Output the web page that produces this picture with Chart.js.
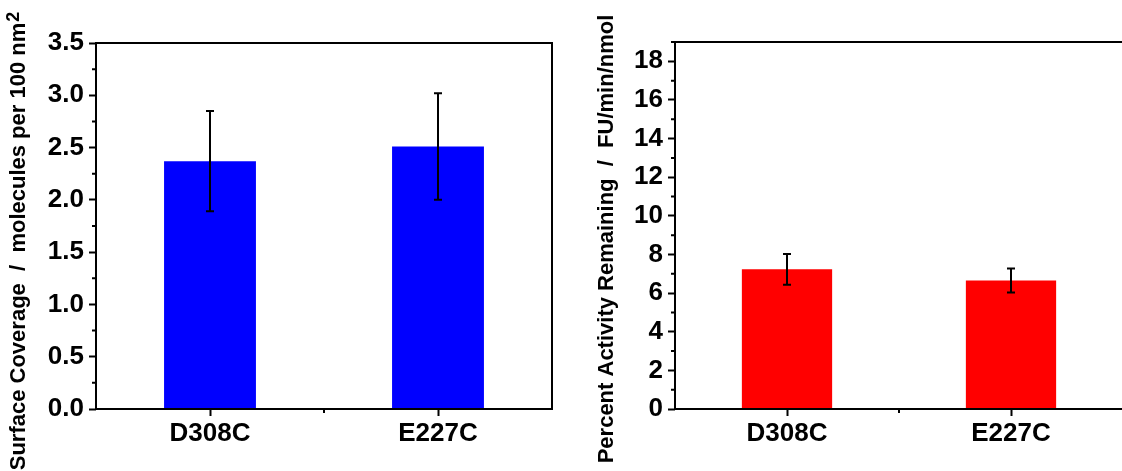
<!DOCTYPE html>
<html>
<head>
<meta charset="utf-8">
<script src="https://cdn.jsdelivr.net/npm/chart.js@4.4.1/dist/chart.umd.min.js"></script>
<style>
html, body { margin: 0; padding: 0; background: #fff; overflow: hidden; }
body { width: 1122px; height: 471px; position: relative; }
#left { position: absolute; left: 0; top: 0; }
#right { position: absolute; left: 560px; top: 0; }
</style>
</head>
<body>
<canvas id="left" width="560" height="471"></canvas>
<canvas id="right" width="575" height="471"></canvas>
<script>
const categories = ['D308C', 'E227C'];
const coverage = [2.37, 2.51];
const coverageErr = [0.48, 0.51];
const activity = [7.23, 6.65];
const activityErr = [0.80, 0.62];
const coverageTicks = [0, 0.5, 1, 1.5, 2, 2.5, 3, 3.5];
const activityTicks = [0, 2, 4, 6, 8, 10, 12, 14, 16, 18];

const FAMILY = '"Liberation Sans", Arial, sans-serif';

// error bars, box around plot, short minor ticks
const framePlugin = {
    id: 'frame',
    afterDatasetsDraw(chart, args, opts) {
        const ctx = chart.ctx;
        const a = chart.chartArea;
        const xs = chart.scales.x, ys = chart.scales.y;
        const meta = chart.getDatasetMeta(0);
        const vals = chart.data.datasets[0].data;
        ctx.save();
        ctx.strokeStyle = '#000';
        ctx.lineWidth = 2;
        ctx.beginPath();
        opts.err.forEach((e, i) => {
            const bx = meta.data[i].x;
            const yt = ys.getPixelForValue(vals[i] + e);
            const yb = ys.getPixelForValue(vals[i] - e);
            ctx.moveTo(bx, yt); ctx.lineTo(bx, yb);
            ctx.moveTo(bx - 4, yt); ctx.lineTo(bx + 4, yt);
            ctx.moveTo(bx - 4, yb); ctx.lineTo(bx + 4, yb);
        });
        ctx.stroke();

        ctx.strokeRect(a.left, a.top, a.right - a.left, a.bottom - a.top);

        // minor ticks
        ctx.beginPath();
        const t = opts.ticks;
        for (let i = 0; i < t.length; i++) {
            const mid = i < t.length - 1 ? (t[i] + t[i + 1]) / 2 : t[i] + (t[1] - t[0]) / 2;
            if (mid > ys.max) continue;
            const py = ys.getPixelForValue(mid);
            ctx.moveTo(a.left, py); ctx.lineTo(a.left - 4, py);
        }
        const px = xs.getPixelForValue(0.5);
        ctx.moveTo(px, a.bottom); ctx.lineTo(px, a.bottom + 4);
        ctx.stroke();
        ctx.restore();
    }
};

// rotated y title with raised superscript
const titlePlugin = {
    id: 'ytitle',
    afterDraw(chart, args, o) {
        const ctx = chart.ctx;
        const main = 'bold 22px ' + FAMILY;
        const sup = 'bold 18px ' + FAMILY;
        ctx.save();
        ctx.translate(o.x, o.y);
        ctx.rotate(-Math.PI / 2);
        ctx.fillStyle = '#000';
        ctx.textAlign = 'left';
        ctx.textBaseline = 'alphabetic';
        ctx.font = main;
        const w1 = ctx.measureText(o.text).width;
        ctx.font = sup;
        const w2 = o.sup ? ctx.measureText(o.sup).width + 1 : 0;
        const sx = -(w1 + w2) / 2;
        ctx.font = main;
        ctx.fillText(o.text, sx, 0);
        if (o.sup) {
            ctx.font = sup;
            ctx.fillText(o.sup, sx + w1 + 1, -6);
        }
        ctx.restore();
    }
};

function makeChart(id, values, err, color, yMax, yTicks, fmt, title, pad, yWidth, tickPad) {
    const tickFont = { family: FAMILY, size: 26, weight: 'bold' };
    return new Chart(document.getElementById(id), {
        type: 'bar',
        data: {
            labels: categories,
            datasets: [{
                data: values,
                backgroundColor: color,
                barPercentage: 0.403,
                categoryPercentage: 1
            }]
        },
        options: {
            responsive: false,
            animation: false,
            devicePixelRatio: 1,
            layout: { padding: pad },
            plugins: {
                legend: { display: false },
                tooltip: { enabled: false },
                frame: { err: err, ticks: yTicks },
                ytitle: title
            },
            scales: {
                x: {
                    offset: true,
                    grid: { offset: false, drawOnChartArea: false, tickLength: 7, tickWidth: 2, tickColor: '#000' },
                    border: { display: false },
                    ticks: { color: '#000', font: tickFont, padding: 2, maxRotation: 0 },
                    afterFit: s => { s.height = 62; }
                },
                y: {
                    min: 0,
                    max: yMax,
                    afterBuildTicks: s => { s.ticks = yTicks.map(v => ({ value: v })); },
                    grid: { drawOnChartArea: false, tickLength: 7, tickWidth: 2, tickColor: '#000' },
                    border: { display: false },
                    ticks: { color: '#000', font: tickFont, padding: tickPad, callback: fmt },
                    afterFit: s => { s.width = yWidth; }
                }
            }
        },
        plugins: [framePlugin, titlePlugin]
    });
}

makeChart('left', coverage, coverageErr, '#0000ff', 3.5, coverageTicks, v => v.toFixed(1),
    { text: 'Surface Coverage  /  molecules per 100 nm', sup: '2', x: 25, y: 241 },
    { top: 43, right: 8, left: 0, bottom: 0 }, 96, 5);

makeChart('right', activity, activityErr, '#ff0000', 19, activityTicks, v => String(v),
    { text: 'Percent Activity Remaining  /  FU/min/nmol', sup: '', x: 53, y: 239 },
    { top: 42, right: 12, left: 0, bottom: 0 }, 115, 5);
</script>
</body>
</html>
